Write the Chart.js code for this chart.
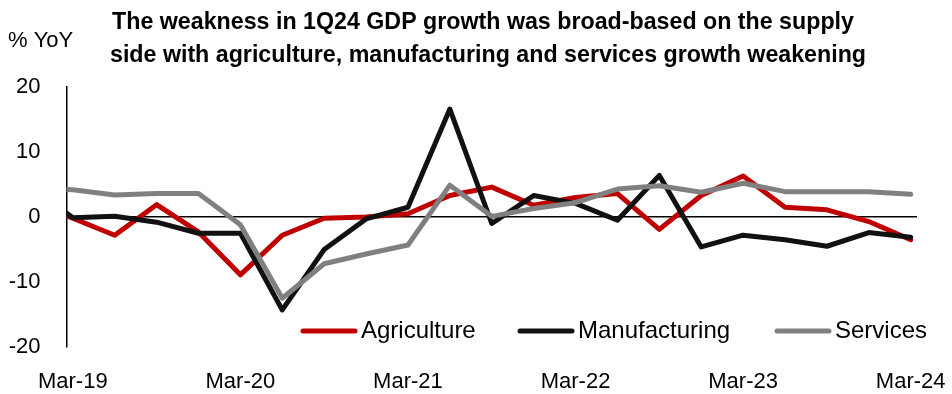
<!DOCTYPE html>
<html>
<head>
<meta charset="utf-8">
<script src="https://cdn.jsdelivr.net/npm/chart.js@4/dist/chart.umd.min.js"></script>
<style>
  html, body { margin: 0; padding: 0; background: #fff; }
  canvas { display: block; }
</style>
</head>
<body>
<canvas id="gdpChart" width="952" height="394"></canvas>
<script>
// quarters (Dec-18 sits just left of the axis and is clipped)
const quarters = ['Dec-18', 'Mar-19', 'Jun-19', 'Sep-19', 'Dec-19', 'Mar-20', 'Jun-20', 'Sep-20', 'Dec-20',
    'Mar-21', 'Jun-21', 'Sep-21', 'Dec-21', 'Mar-22', 'Jun-22', 'Sep-22', 'Dec-22',
    'Mar-23', 'Jun-23', 'Sep-23', 'Dec-23', 'Mar-24'];

// % YoY
const agriculture = [2.5, -0.2, -2.8, 1.9, -2.3, -8.9, -2.8, -0.2, 0.0, 0.5, 3.3, 4.6, 1.8, 3.0, 3.6, -1.9, 3.3, 6.3, 1.5, 1.1, -0.7, -3.5];
const manufacturing = [4.5, -0.1, 0.1, -0.8, -2.5, -2.5, -14.3, -5.0, -0.3, 1.5, 16.6, -1.0, 3.3, 2.1, -0.5, 6.4, -4.6, -2.8, -3.5, -4.5, -2.4, -3.1];
const services = [4.3, 4.2, 3.4, 3.6, 3.6, -1.2, -12.5, -7.2, -5.7, -4.3, 4.9, 0.1, 1.3, 2.2, 4.3, 4.8, 3.8, 5.2, 3.9, 3.9, 3.9, 3.5];

const xTickLabels = ['Mar-19', 'Mar-20', 'Mar-21', 'Mar-22', 'Mar-23', 'Mar-24'];
const yTicks = [-20, -10, 0, 10, 20];

const titleLines = [
    'The weakness in 1Q24 GDP growth was broad-based on the supply',
    'side with agriculture, manufacturing and services growth weakening'
];
const unitLabel = '% YoY';

const FONT = '"Liberation Sans", Arial, sans-serif';

function toPoints(values) {
    return values.map((v, i) => ({ x: i - 1, y: v }));
}

// 标题、单位和图例
const overlay = {
    id: 'overlay',
    afterDraw(chart) {
        const ctx = chart.ctx;
        ctx.save();
        ctx.fillStyle = '#000';
        ctx.textBaseline = 'middle';

        ctx.font = 'bold 20px ' + FONT;
        const w = ctx.measureText(titleLines[1]).width;
        const size = 20 * 756 / w;
        ctx.font = 'bold ' + size.toFixed(2) + 'px ' + FONT;
        ctx.textAlign = 'center';
        ctx.fillText(titleLines[0], 483, 23);
        ctx.fillText(titleLines[1], 488, 56);

        ctx.font = '22px ' + FONT;
        ctx.textAlign = 'left';
        ctx.fillText(unitLabel, 8, 41);

        const starts = [303, 520, 777];
        ctx.font = '24px ' + FONT;
        chart.data.datasets.forEach((ds, i) => {
            const x = starts[i];
            ctx.strokeStyle = ds.borderColor;
            ctx.lineWidth = 5;
            ctx.lineCap = 'round';
            ctx.beginPath();
            ctx.moveTo(x, 331);
            ctx.lineTo(x + 52, 331);
            ctx.stroke();
            ctx.fillText(ds.label, x + 58, 331);
        });
        ctx.restore();
    }
};

new Chart(document.getElementById('gdpChart'), {
    type: 'line',
    data: {
        datasets: [{
            label: 'Agriculture',
            data: toPoints(agriculture),
            borderColor: '#C00000',
            order: 2
        }, {
            label: 'Manufacturing',
            data: toPoints(manufacturing),
            borderColor: '#111111',
            order: 1
        }, {
            label: 'Services',
            data: toPoints(services),
            borderColor: '#808080',
            order: 0
        }]
    },
    options: {
        responsive: false,
        animation: false,
        layout: { padding: { top: 87, right: 35, left: 0, bottom: 0 } },
        elements: {
            line: { borderWidth: 5, tension: 0, borderJoinStyle: 'round', borderCapStyle: 'round', fill: false },
            point: { radius: 0, hoverRadius: 0 }
        },
        datasets: { line: { clip: 0 } },
        plugins: {
            legend: { display: false },
            title: { display: false },
            tooltip: { enabled: false }
        },
        scales: {
            x: {
                type: 'linear',
                min: -0.15,
                max: 20.15,
                grid: { display: false },
                border: { display: false },
                afterBuildTicks: scale => {
                    scale.ticks = xTickLabels.map(l => ({ value: quarters.indexOf(l) - 1 }));
                },
                afterFit: scale => {
                    scale.height = 47;
                    scale.paddingLeft = 0;
                    scale.paddingRight = 0;
                },
                ticks: {
                    autoSkip: false,
                    maxRotation: 0,
                    padding: 14,
                    color: '#000',
                    font: { family: FONT, size: 22 },
                    callback: v => quarters[v + 1]
                }
            },
            y: {
                min: -20,
                max: 20,
                afterBuildTicks: scale => {
                    scale.ticks = yTicks.map(v => ({ value: v }));
                },
                afterFit: scale => {
                    scale.width = 66.5;
                    scale.paddingTop = 0;
                    scale.paddingBottom = 0;
                },
                border: { display: true, color: '#000', width: 1.5 },
                grid: {
                    drawTicks: false,
                    color: c => c.tick && c.tick.value === 0 ? '#000' : 'rgba(0,0,0,0)',
                    lineWidth: 1.5
                },
                ticks: {
                    padding: 26,
                    color: '#000',
                    font: { family: FONT, size: 22 }
                }
            }
        }
    },
    plugins: [overlay]
});
</script>
</body>
</html>
